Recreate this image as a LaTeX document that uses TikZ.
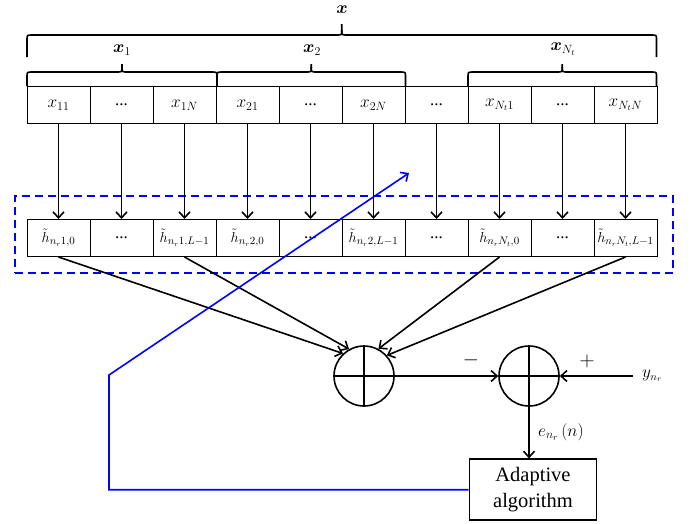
\documentclass[tikz,border=0pt]{standalone}
\usepackage{amsmath}
\usepackage[no-math]{fontspec}
\newfontfamily\txtfont{Liberation Serif}
\usetikzlibrary{arrows.meta}
\newcommand\drawbrace[5]{%
  \draw[brc] (#1,#3) -- (#1,#4+5) .. controls (#1,#4) .. (#1+5,#4)
    -- ({(#1+#2)/2-5},#4) .. controls ({(#1+#2)/2},#4) .. ({(#1+#2)/2},#4-5)
    -- ({(#1+#2)/2},#5);
  \draw[brc] ({(#1+#2)/2},#4-5) .. controls ({(#1+#2)/2},#4) .. ({(#1+#2)/2+5},#4)
    -- (#2-5,#4) .. controls (#2,#4) .. (#2,#4+5) -- (#2,#3);
}
\begin{document}
\begin{tikzpicture}[x=1pt,y=-1pt,
  cell/.style={draw, line width=1pt, minimum width=63pt, minimum height=37pt, inner sep=0pt, font=\fontsize{17}{20}\selectfont},
  hcell/.style={cell, fill=white, font=\fontsize{15}{18}\selectfont},
  arr/.style={line width=1.6pt, -{Straight Barb[length=6pt,width=11pt,line width=1.6pt]}},
  barr/.style={blue, line width=1.6pt, -{Straight Barb[length=6pt,width=11pt,line width=1.6pt]}},
  sumnode/.style={circle, draw, line width=1.6pt, minimum size=60pt, inner sep=0pt},
  brc/.style={line width=1.6pt},
  lbl/.style={inner sep=0pt}
]
\useasboundingbox (0,0) rectangle (692,523);

% top row
\foreach \i/\lab in {1/{$x_{11}$}, 2/{\txtfont ...}, 3/{$x_{1N}$}, 4/{$x_{21}$}, 5/{\txtfont ...}, 6/{$x_{2N}$}, 7/{\txtfont ...}, 8/{$x_{N_t1}$}, 9/{\txtfont ...}, 10/{$x_{N_tN}$}}
  \node[cell] (t\i) at ({27+63*(\i-0.5)},105) {\lab};

% dashed group
\node[draw=blue, dashed, dash pattern=on 8pt off 5pt, line width=1.6pt, minimum width=658pt, minimum height=77pt, inner sep=0pt] (grp) at (344,234.5) {};

% second row
\foreach \i/\lab in {1/{$\tilde{h}_{n_r1,0}$}, 2/{\txtfont\fontsize{17}{20}\selectfont ...}, 3/{$\tilde{h}_{n_r1,L-1}$}, 4/{$\tilde{h}_{n_r2,0}$}, 5/{\txtfont\fontsize{17}{20}\selectfont ...}, 6/{$\tilde{h}_{n_r2,L-1}$}, 7/{\txtfont\fontsize{17}{20}\selectfont ...}, 8/{$\tilde{h}_{n_rN_t,0}$}, 9/{\txtfont\fontsize{17}{20}\selectfont ...}, 10/{$\tilde{h}_{n_rN_t,L-1}$}}
  \node[hcell] (h\i) at ({27+63*(\i-0.5)},238) {\lab};

\foreach \i in {1,...,10}
  \draw[arr] (t\i.south) -- (h\i.north);

% braces
\drawbrace{27}{656.5}{57}{35}{24}
\drawbrace{27}{217}{86}{72}{64}
\drawbrace{217}{405.5}{86}{72}{64}
\drawbrace{468}{656.5}{86}{72}{64}
\node[lbl, font=\fontsize{16}{19}\selectfont] (lx) at (342,10) {$\boldsymbol{x}$};
\node[lbl, font=\fontsize{17}{20}\selectfont] (lx1) at (122,50) {$\boldsymbol{x}_1$};
\node[lbl, font=\fontsize{17}{20}\selectfont] (lx2) at (312,50) {$\boldsymbol{x}_2$};
\node[lbl, font=\fontsize{17}{20}\selectfont] (lxn) at (563,49) {$\boldsymbol{x}_{N_t}$};

% summers
\node[sumnode] (c1) at (364,376) {};
\node[sumnode] (c2) at (529,376) {};
\draw[line width=1.6pt] (c1.north) -- (c1.south) (c1.west) -- (c1.east);
\draw[line width=1.6pt] (c2.north) -- (c2.south) (c2.west) -- (c2.east);

\draw[arr] (h1.south) -- (c1.133);
\draw[arr] (h3.south) -- (c1.119);
\draw[arr] (h8.south) -- (c1.62);
\draw[arr] (h10.south) -- (c1.42);
\draw[arr] (c1.east) -- (c2.west);

\coordinate (yin) at (633,376);
\draw[arr] (yin) -- (c2.east);
\node[lbl, anchor=west, font=\fontsize{16}{18}\selectfont] (ylab) at (642,376) {$y_{n_r}$};
\node[lbl, font=\fontsize{22}{24}\selectfont] (minus) at (471,360) {$-$};
\node[lbl, font=\fontsize{22}{24}\selectfont] (plus) at (587,361) {$+$};

% adaptive algorithm
\node[draw, line width=1.6pt, minimum width=127pt, minimum height=61pt, inner sep=0pt, align=center, font=\txtfont\fontsize{20.5}{26}\selectfont] (ad) at (533,489.7) {Adaptive\\algorithm};
\draw[arr] (c2.south) -- (c2.south |- ad.north);
\node[lbl, anchor=west, font=\fontsize{17.5}{20}\selectfont] (elab) at (538,432) {$e_{n_r}\,(n)$};

% feedback
\coordinate (b1) at (109,489.7);
\coordinate (b2) at (109,375);
\coordinate (btip) at (409,173);
\draw[barr] (ad.west) -- (b1) -- (b2) -- (btip);
\end{tikzpicture}
\end{document}
